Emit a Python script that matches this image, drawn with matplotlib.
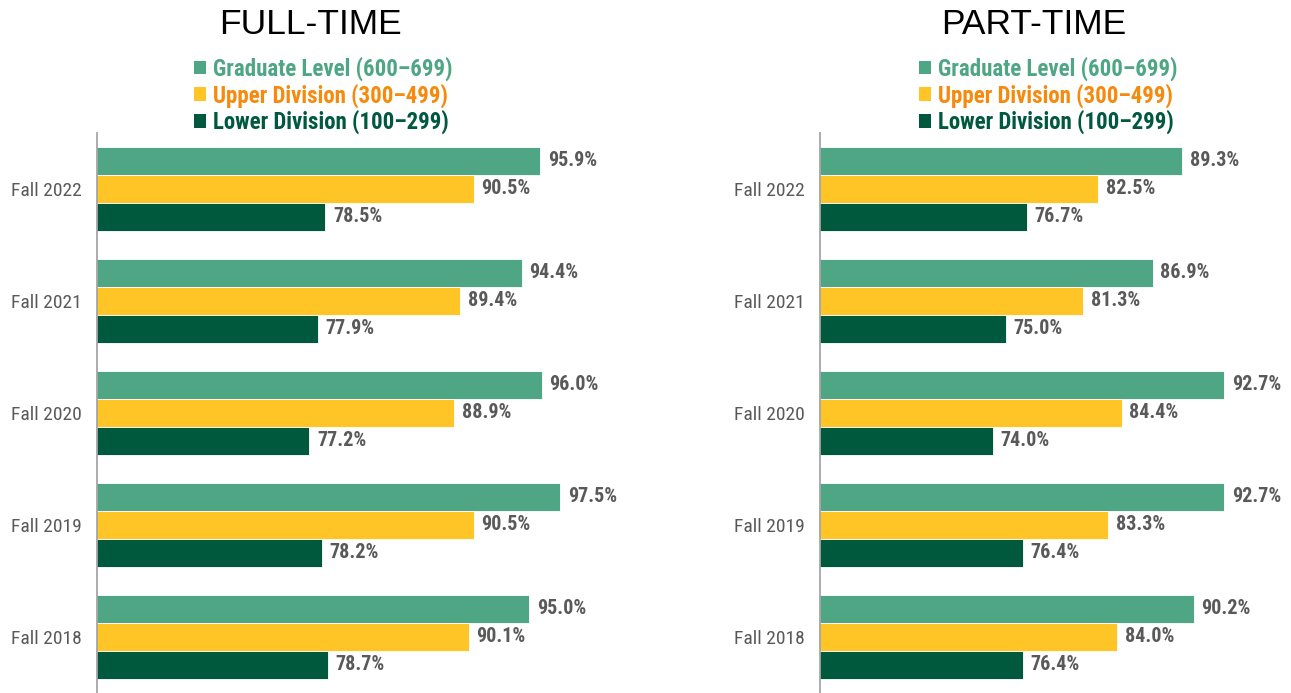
import numpy as np
import matplotlib.pyplot as plt
from matplotlib.patches import Patch

# data
terms = ['Fall 2022', 'Fall 2021', 'Fall 2020', 'Fall 2019', 'Fall 2018']
series = ['Graduate Level (600\u2013699)', 'Upper Division (300\u2013499)', 'Lower Division (100\u2013299)']

full_grad = [95.9, 94.4, 96.0, 97.5, 95.0]
full_upper = [90.5, 89.4, 88.9, 90.5, 90.1]
full_lower = [78.5, 77.9, 77.2, 78.2, 78.7]

part_grad = [89.3, 86.9, 92.7, 92.7, 90.2]
part_upper = [82.5, 81.3, 84.4, 83.3, 84.0]
part_lower = [76.7, 75.0, 74.0, 76.4, 76.4]

bar_colors = ['#4FA685', '#FFC425', '#00593C']
text_colors = ['#4FA685', '#F7890C', '#00593C']
GRAY = '#595959'
FONT = ['Roboto Condensed', 'Roboto']

W, H = 1291, 693
fig = plt.figure(figsize=(W / 100, H / 100), dpi=100)


def panel(left_px, right_px, xmax, title, title_x, legend_x, values):
    ax = fig.add_axes([left_px / W, 0, (right_px - left_px) / W, 560 / H])
    y = np.arange(len(terms))
    h = 0.25
    for i, vals in enumerate(values):
        bars = ax.barh(y + (i - 1) * h, vals, height=h, color=bar_colors[i],
                       edgecolor='white', linewidth=0.6)
        ax.bar_label(bars, fmt='%.1f%%', padding=5.5, color=GRAY,
                     fontsize=14.5, fontweight='bold', family=FONT,
                     fontstretch='condensed')
    ax.set_xlim(60, xmax)
    ax.set_ylim(len(terms) - 0.5, -0.5)
    ax.set_yticks(y)
    ax.set_yticklabels(terms, fontsize=14, color=GRAY, family=FONT,
                       fontstretch='condensed')
    ax.tick_params(axis='y', length=0, pad=11)
    ax.set_xticks([])
    for s in ['top', 'right', 'bottom']:
        ax.spines[s].set_visible(False)
    ax.spines['left'].set_color('#A6A6A6')
    ax.spines['left'].set_linewidth(1.3)

    fig.text(title_x / W, 1 - 24 / H, title, ha='center', va='center',
             fontsize=25.5, family='Liberation Sans', color='black')

    handles = [Patch(facecolor=c) for c in bar_colors]
    leg = fig.legend(handles, series, loc='upper center',
                     bbox_to_anchor=(legend_x / W, 1 - 45 / H),
                     frameon=False, handlelength=0.55, handleheight=0.55,
                     handletextpad=0.3, labelspacing=0.1, borderpad=0,
                     prop={'family': FONT, 'weight': 'bold', 'size': 16.5,
                           'stretch': 'condensed'})
    for t, c in zip(leg.get_texts(), text_colors):
        t.set_color(c)
    return ax


panel(97, 591, 100, 'FULL-TIME', 311, 323, [full_grad, full_upper, full_lower])
panel(820, 1291, 60 + 471 / 12.37, 'PART-TIME', 1034, 1048, [part_grad, part_upper, part_lower])

fig.savefig('out.png', dpi=100)
